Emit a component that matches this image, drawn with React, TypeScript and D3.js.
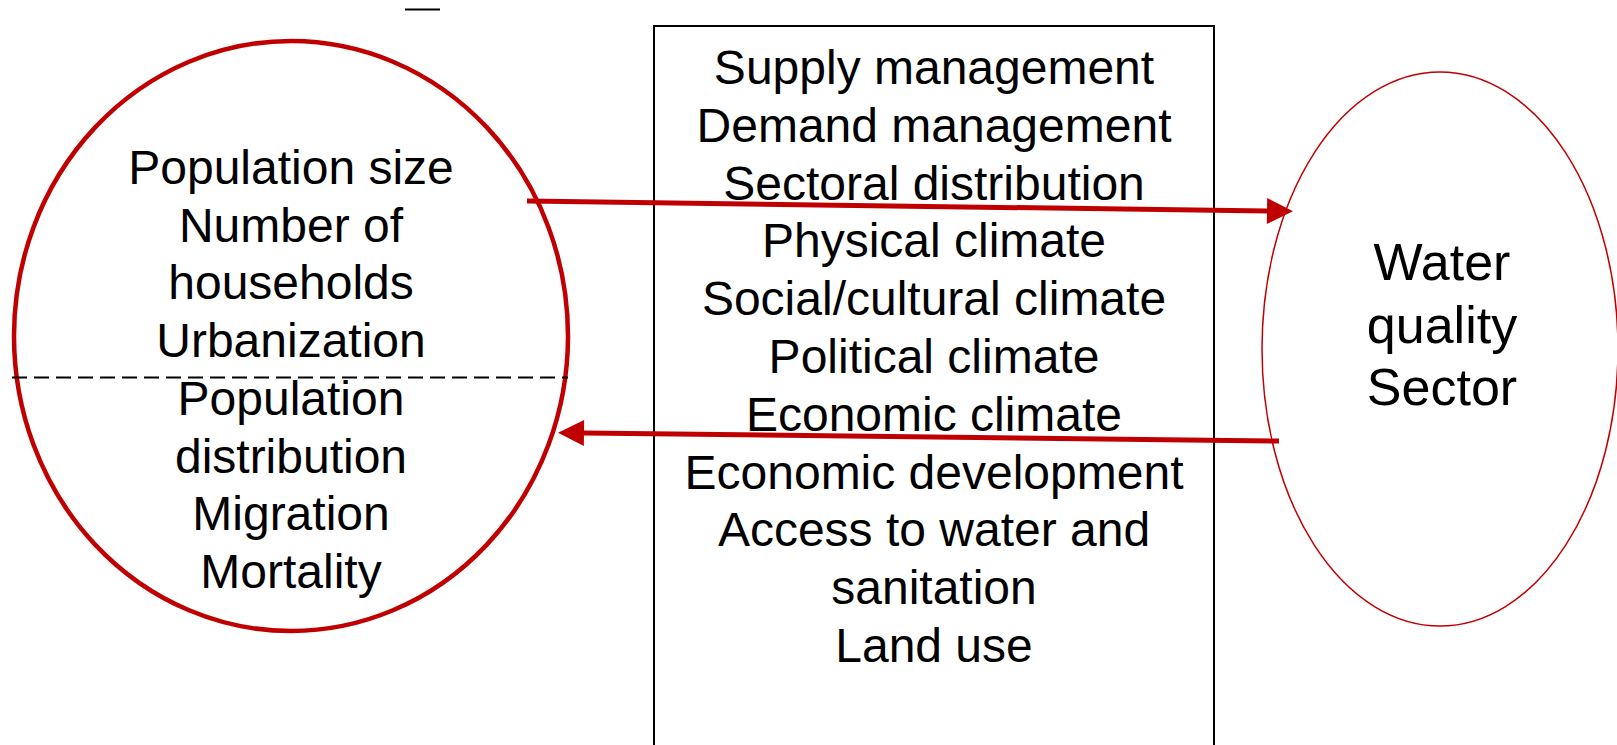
import React from "react";
import * as d3 from "d3";

const W = 1617;
const H = 745;

const leftLabels = ["Population size", "Number of", "households", "Urbanization", "Population", "distribution", "Migration", "Mortality"];
const boxLabels = [
  "Supply management",
  "Demand management",
  "Sectoral distribution",
  "Physical climate",
  "Social/cultural climate",
  "Political climate",
  "Economic climate",
  "Economic development",
  "Access to water and",
  "sanitation",
  "Land use",
];
const rightLabels = ["Water", "quality", "Sector"];

const RED = "#c00000";
const FONT = "'Liberation Sans', Arial, sans-serif";

export default function App() {
  // line positions for each text block
  const yLeft = d3.scaleLinear().domain([0, leftLabels.length - 1]).range([184, 588]);
  const yBox = d3.scaleLinear().domain([0, boxLabels.length - 1]).range([84, 662]);
  const yRight = d3.scaleLinear().domain([0, rightLabels.length - 1]).range([280, 405]);

  const dashedLine = d3.line()([[12, 377.5], [568, 377.5]]);
  const topArrow = d3.line()([[527, 201], [1267, 211]]);
  const bottomArrow = d3.line()([[1279, 441], [584, 433]]);

  return (
    <svg
      width={W}
      height={H}
      style={{ position: "absolute", left: 0, top: 0, background: "#fff" }}
      fontFamily={FONT}
    >
      <defs>
        <marker id="head" viewBox="0 0 10 10" refX="0" refY="5" markerUnits="userSpaceOnUse" markerWidth="27" markerHeight="26" orient="auto">
          <path d="M0,0 L10,5 L0,10 Z" fill={RED} />
        </marker>
      </defs>

      {/* small stray dash at top */}
      <line x1={405} x2={440} y1={9.5} y2={9.5} stroke="#000" strokeWidth={2} />

      {/* centre box */}
      <rect x={654} y={26} width={560} height={760} fill="none" stroke="#000" strokeWidth={2} />
      <g textAnchor="middle" fontSize={48} fill="#000">
        {boxLabels.map((t, i) => (
          <text key={t} x={934} y={yBox(i)}>{t}</text>
        ))}
      </g>

      {/* left circle */}
      <ellipse cx={291} cy={336} rx={277} ry={295} fill="none" stroke={RED} strokeWidth={4.5} />
      <path d={dashedLine} stroke="#000" strokeWidth={1.8} strokeDasharray="15 7" />
      <g textAnchor="middle" fontSize={48} fill="#000">
        {leftLabels.map((t, i) => (
          <text key={t} x={291} y={yLeft(i)}>{t}</text>
        ))}
      </g>

      {/* right ellipse */}
      <ellipse cx={1440} cy={349} rx={178} ry={277} fill="none" stroke={RED} strokeWidth={1.5} />
      <g textAnchor="middle" fontSize={52} fill="#000">
        {rightLabels.map((t, i) => (
          <text key={t} x={1442} y={yRight(i)}>{t}</text>
        ))}
      </g>

      {/* arrows */}
      <path d={topArrow} stroke={RED} strokeWidth={5} fill="none" markerEnd="url(#head)" />
      <path d={bottomArrow} stroke={RED} strokeWidth={5} fill="none" markerEnd="url(#head)" />
    </svg>
  );
}
